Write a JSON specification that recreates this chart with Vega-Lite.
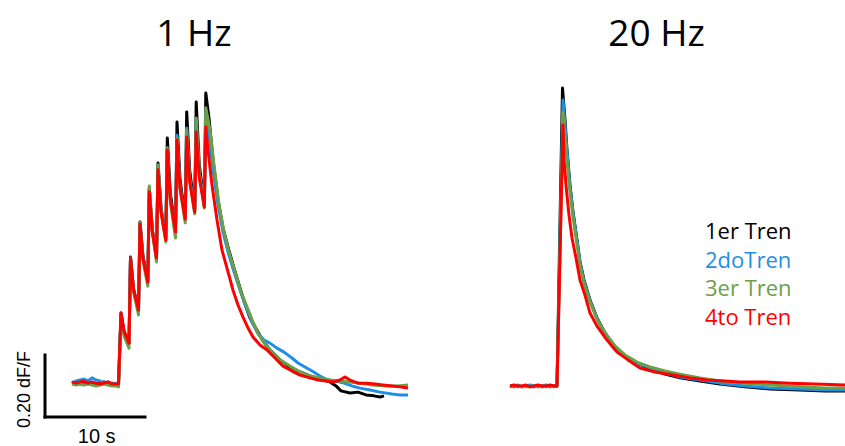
{
  "$schema": "https://vega.github.io/schema/vega-lite/v6.json",
  "padding": 0,
  "spacing": 0,
  "background": "white",
  "config": {"view": {"stroke": null}},
  "resolve": {"scale": {"x": "independent", "y": "independent", "color": "shared"}},
  "datasets": {
    "hz1": [
      {"trial":"1er Tren","t":0,"v":0.006},{"trial":"1er Tren","t":0.4,"v":0.010},{"trial":"1er Tren","t":0.8,"v":0.003},{"trial":"1er Tren","t":1.2,"v":0.006},{"trial":"1er Tren","t":1.6,"v":0.010},{"trial":"1er Tren","t":2.0,"v":0.006},{"trial":"1er Tren","t":2.4,"v":0.003},{"trial":"1er Tren","t":2.8,"v":0.006},{"trial":"1er Tren","t":3.2,"v":0.010},{"trial":"1er Tren","t":3.6,"v":0.003},{"trial":"1er Tren","t":4.0,"v":0.006},{"trial":"1er Tren","t":4.4,"v":0.003},{"trial":"1er Tren","t":4.65,"v":0.003},
      {"trial":"1er Tren","t":4.9,"v":0.232},{"trial":"1er Tren","t":5.2,"v":0.174},{"trial":"1er Tren","t":5.7,"v":0.135},
      {"trial":"1er Tren","t":5.85,"v":0.413},{"trial":"1er Tren","t":6.15,"v":0.310},{"trial":"1er Tren","t":6.65,"v":0.242},
      {"trial":"1er Tren","t":6.8,"v":0.526},{"trial":"1er Tren","t":7.1,"v":0.414},{"trial":"1er Tren","t":7.58,"v":0.339},
      {"trial":"1er Tren","t":7.73,"v":0.635},{"trial":"1er Tren","t":8.03,"v":0.502},{"trial":"1er Tren","t":8.45,"v":0.413},
      {"trial":"1er Tren","t":8.6,"v":0.716},{"trial":"1er Tren","t":8.9,"v":0.571},{"trial":"1er Tren","t":9.38,"v":0.474},
      {"trial":"1er Tren","t":9.53,"v":0.797},{"trial":"1er Tren","t":9.83,"v":0.619},{"trial":"1er Tren","t":10.35,"v":0.500},
      {"trial":"1er Tren","t":10.5,"v":0.848},{"trial":"1er Tren","t":10.8,"v":0.663},{"trial":"1er Tren","t":11.32,"v":0.539},
      {"trial":"1er Tren","t":11.47,"v":0.881},{"trial":"1er Tren","t":11.77,"v":0.691},{"trial":"1er Tren","t":12.27,"v":0.565},
      {"trial":"1er Tren","t":12.42,"v":0.913},{"trial":"1er Tren","t":12.72,"v":0.714},{"trial":"1er Tren","t":13.23,"v":0.581},
      {"trial":"1er Tren","t":13.38,"v":0.942},
      {"trial":"1er Tren","t":13.7,"v":0.861},{"trial":"1er Tren","t":14.1,"v":0.726},{"trial":"1er Tren","t":14.6,"v":0.597},{"trial":"1er Tren","t":15.1,"v":0.506},{"trial":"1er Tren","t":15.6,"v":0.445},{"trial":"1er Tren","t":16.2,"v":0.377},{"trial":"1er Tren","t":16.8,"v":0.313},{"trial":"1er Tren","t":17.3,"v":0.261},{"trial":"1er Tren","t":17.8,"v":0.216},{"trial":"1er Tren","t":18.5,"v":0.177},{"trial":"1er Tren","t":19.1,"v":0.142},{"trial":"1er Tren","t":19.8,"v":0.113},{"trial":"1er Tren","t":20.8,"v":0.081},{"trial":"1er Tren","t":21.8,"v":0.058},{"trial":"1er Tren","t":22.8,"v":0.042},{"trial":"1er Tren","t":23.8,"v":0.029},{"trial":"1er Tren","t":24.8,"v":0.019},{"trial":"1er Tren","t":25.8,"v":0.010},{"trial":"1er Tren","t":26.4,"v":-0.003},{"trial":"1er Tren","t":26.9,"v":-0.019},{"trial":"1er Tren","t":27.8,"v":-0.026},{"trial":"1er Tren","t":28.6,"v":-0.023},{"trial":"1er Tren","t":29.4,"v":-0.032},{"trial":"1er Tren","t":30.2,"v":-0.035},{"trial":"1er Tren","t":30.8,"v":-0.039},{"trial":"1er Tren","t":31.2,"v":-0.035},

      {"trial":"2doTren","t":0,"v":0.006},{"trial":"2doTren","t":0.4,"v":0.013},{"trial":"2doTren","t":0.8,"v":0.016},{"trial":"2doTren","t":1.2,"v":0.019},{"trial":"2doTren","t":1.6,"v":0.013},{"trial":"2doTren","t":2.0,"v":0.023},{"trial":"2doTren","t":2.4,"v":0.016},{"trial":"2doTren","t":2.8,"v":0.013},{"trial":"2doTren","t":3.2,"v":0.006},{"trial":"2doTren","t":3.6,"v":0.010},{"trial":"2doTren","t":4.0,"v":0.003},{"trial":"2doTren","t":4.4,"v":0.006},{"trial":"2doTren","t":4.65,"v":0.003},
      {"trial":"2doTren","t":4.9,"v":0.226},{"trial":"2doTren","t":5.2,"v":0.171},{"trial":"2doTren","t":5.7,"v":0.135},
      {"trial":"2doTren","t":5.85,"v":0.410},{"trial":"2doTren","t":6.15,"v":0.307},{"trial":"2doTren","t":6.65,"v":0.239},
      {"trial":"2doTren","t":6.8,"v":0.523},{"trial":"2doTren","t":7.1,"v":0.410},{"trial":"2doTren","t":7.58,"v":0.335},
      {"trial":"2doTren","t":7.73,"v":0.629},{"trial":"2doTren","t":8.03,"v":0.498},{"trial":"2doTren","t":8.45,"v":0.410},
      {"trial":"2doTren","t":8.6,"v":0.710},{"trial":"2doTren","t":8.9,"v":0.567},{"trial":"2doTren","t":9.38,"v":0.471},
      {"trial":"2doTren","t":9.53,"v":0.758},{"trial":"2doTren","t":9.83,"v":0.601},{"trial":"2doTren","t":10.35,"v":0.497},
      {"trial":"2doTren","t":10.5,"v":0.806},{"trial":"2doTren","t":10.8,"v":0.646},{"trial":"2doTren","t":11.32,"v":0.539},
      {"trial":"2doTren","t":11.47,"v":0.829},{"trial":"2doTren","t":11.77,"v":0.668},{"trial":"2doTren","t":12.27,"v":0.561},
      {"trial":"2doTren","t":12.42,"v":0.855},{"trial":"2doTren","t":12.72,"v":0.688},{"trial":"2doTren","t":13.23,"v":0.577},
      {"trial":"2doTren","t":13.38,"v":0.881},
      {"trial":"2doTren","t":13.7,"v":0.806},{"trial":"2doTren","t":14.1,"v":0.694},{"trial":"2doTren","t":14.6,"v":0.581},{"trial":"2doTren","t":15.1,"v":0.494},{"trial":"2doTren","t":15.6,"v":0.429},{"trial":"2doTren","t":16.2,"v":0.365},{"trial":"2doTren","t":16.8,"v":0.306},{"trial":"2doTren","t":17.4,"v":0.252},{"trial":"2doTren","t":18.0,"v":0.203},{"trial":"2doTren","t":18.6,"v":0.165},{"trial":"2doTren","t":19.2,"v":0.145},{"trial":"2doTren","t":19.8,"v":0.135},{"trial":"2doTren","t":20.5,"v":0.119},{"trial":"2doTren","t":21.2,"v":0.106},{"trial":"2doTren","t":22.0,"v":0.087},{"trial":"2doTren","t":22.6,"v":0.071},{"trial":"2doTren","t":23.3,"v":0.058},{"trial":"2doTren","t":24.0,"v":0.045},{"trial":"2doTren","t":24.8,"v":0.029},{"trial":"2doTren","t":25.6,"v":0.016},{"trial":"2doTren","t":26.4,"v":0.013},{"trial":"2doTren","t":27.2,"v":0.006},{"trial":"2doTren","t":28.0,"v":-0.003},{"trial":"2doTren","t":28.8,"v":-0.010},{"trial":"2doTren","t":29.8,"v":-0.016},{"trial":"2doTren","t":30.8,"v":-0.023},{"trial":"2doTren","t":32.0,"v":-0.029},{"trial":"2doTren","t":32.8,"v":-0.032},{"trial":"2doTren","t":33.6,"v":-0.032},

      {"trial":"3er Tren","t":0,"v":0.003},{"trial":"3er Tren","t":0.4,"v":0},{"trial":"3er Tren","t":0.8,"v":0.003},{"trial":"3er Tren","t":1.2,"v":0},{"trial":"3er Tren","t":1.6,"v":0.003},{"trial":"3er Tren","t":2.0,"v":0},{"trial":"3er Tren","t":2.4,"v":-0.003},{"trial":"3er Tren","t":2.8,"v":0},{"trial":"3er Tren","t":3.2,"v":0.003},{"trial":"3er Tren","t":3.6,"v":0},{"trial":"3er Tren","t":4.0,"v":-0.003},{"trial":"3er Tren","t":4.4,"v":-0.003},{"trial":"3er Tren","t":4.65,"v":-0.006},
      {"trial":"3er Tren","t":4.9,"v":0.216},{"trial":"3er Tren","t":5.2,"v":0.158},{"trial":"3er Tren","t":5.7,"v":0.119},
      {"trial":"3er Tren","t":5.85,"v":0.410},{"trial":"3er Tren","t":6.15,"v":0.300},{"trial":"3er Tren","t":6.65,"v":0.226},
      {"trial":"3er Tren","t":6.8,"v":0.526},{"trial":"3er Tren","t":7.1,"v":0.402},{"trial":"3er Tren","t":7.58,"v":0.319},
      {"trial":"3er Tren","t":7.73,"v":0.642},{"trial":"3er Tren","t":8.03,"v":0.495},{"trial":"3er Tren","t":8.45,"v":0.397},
      {"trial":"3er Tren","t":8.6,"v":0.710},{"trial":"3er Tren","t":8.9,"v":0.561},{"trial":"3er Tren","t":9.38,"v":0.461},
      {"trial":"3er Tren","t":9.53,"v":0.765},{"trial":"3er Tren","t":9.83,"v":0.590},{"trial":"3er Tren","t":10.35,"v":0.474},
      {"trial":"3er Tren","t":10.5,"v":0.797},{"trial":"3er Tren","t":10.8,"v":0.633},{"trial":"3er Tren","t":11.32,"v":0.523},
      {"trial":"3er Tren","t":11.47,"v":0.823},{"trial":"3er Tren","t":11.77,"v":0.660},{"trial":"3er Tren","t":12.27,"v":0.552},
      {"trial":"3er Tren","t":12.42,"v":0.861},{"trial":"3er Tren","t":12.72,"v":0.687},{"trial":"3er Tren","t":13.23,"v":0.571},
      {"trial":"3er Tren","t":13.38,"v":0.894},
      {"trial":"3er Tren","t":13.8,"v":0.823},{"trial":"3er Tren","t":14.2,"v":0.710},{"trial":"3er Tren","t":14.7,"v":0.581},{"trial":"3er Tren","t":15.2,"v":0.494},{"trial":"3er Tren","t":15.7,"v":0.429},{"trial":"3er Tren","t":16.3,"v":0.365},{"trial":"3er Tren","t":16.9,"v":0.300},{"trial":"3er Tren","t":17.5,"v":0.252},{"trial":"3er Tren","t":18.1,"v":0.203},{"trial":"3er Tren","t":18.7,"v":0.161},{"trial":"3er Tren","t":19.4,"v":0.129},{"trial":"3er Tren","t":20.0,"v":0.106},{"trial":"3er Tren","t":20.8,"v":0.081},{"trial":"3er Tren","t":21.8,"v":0.061},{"trial":"3er Tren","t":22.8,"v":0.042},{"trial":"3er Tren","t":23.8,"v":0.029},{"trial":"3er Tren","t":24.8,"v":0.023},{"trial":"3er Tren","t":25.8,"v":0.016},{"trial":"3er Tren","t":26.8,"v":0.013},{"trial":"3er Tren","t":27.8,"v":0.010},{"trial":"3er Tren","t":28.8,"v":0.006},{"trial":"3er Tren","t":30.0,"v":0},{"trial":"3er Tren","t":31.3,"v":-0.003},{"trial":"3er Tren","t":32.6,"v":-0.003},{"trial":"3er Tren","t":33.6,"v":0},

      {"trial":"4to Tren","t":0,"v":0.010},{"trial":"4to Tren","t":0.4,"v":0.006},{"trial":"4to Tren","t":0.8,"v":0.010},{"trial":"4to Tren","t":1.2,"v":0.013},{"trial":"4to Tren","t":1.6,"v":0.006},{"trial":"4to Tren","t":2.0,"v":0.010},{"trial":"4to Tren","t":2.4,"v":0.006},{"trial":"4to Tren","t":2.8,"v":0.003},{"trial":"4to Tren","t":3.2,"v":0.006},{"trial":"4to Tren","t":3.6,"v":0.010},{"trial":"4to Tren","t":4.0,"v":0.003},{"trial":"4to Tren","t":4.4,"v":0.003},{"trial":"4to Tren","t":4.65,"v":0.003},
      {"trial":"4to Tren","t":4.9,"v":0.232},{"trial":"4to Tren","t":5.2,"v":0.174},{"trial":"4to Tren","t":5.7,"v":0.135},
      {"trial":"4to Tren","t":5.85,"v":0.410},{"trial":"4to Tren","t":6.15,"v":0.309},{"trial":"4to Tren","t":6.65,"v":0.242},
      {"trial":"4to Tren","t":6.8,"v":0.519},{"trial":"4to Tren","t":7.1,"v":0.407},{"trial":"4to Tren","t":7.58,"v":0.332},
      {"trial":"4to Tren","t":7.73,"v":0.623},{"trial":"4to Tren","t":8.03,"v":0.495},{"trial":"4to Tren","t":8.45,"v":0.410},
      {"trial":"4to Tren","t":8.6,"v":0.694},{"trial":"4to Tren","t":8.9,"v":0.558},{"trial":"4to Tren","t":9.38,"v":0.468},
      {"trial":"4to Tren","t":9.53,"v":0.758},{"trial":"4to Tren","t":9.83,"v":0.600},{"trial":"4to Tren","t":10.35,"v":0.494},
      {"trial":"4to Tren","t":10.5,"v":0.790},{"trial":"4to Tren","t":10.8,"v":0.637},{"trial":"4to Tren","t":11.32,"v":0.535},
      {"trial":"4to Tren","t":11.47,"v":0.800},{"trial":"4to Tren","t":11.77,"v":0.655},{"trial":"4to Tren","t":12.27,"v":0.558},
      {"trial":"4to Tren","t":12.42,"v":0.816},{"trial":"4to Tren","t":12.72,"v":0.671},{"trial":"4to Tren","t":13.23,"v":0.574},
      {"trial":"4to Tren","t":13.38,"v":0.832},
      {"trial":"4to Tren","t":13.6,"v":0.758},{"trial":"4to Tren","t":14.0,"v":0.645},{"trial":"4to Tren","t":14.5,"v":0.532},{"trial":"4to Tren","t":15.0,"v":0.435},{"trial":"4to Tren","t":15.5,"v":0.377},{"trial":"4to Tren","t":16.1,"v":0.306},{"trial":"4to Tren","t":16.6,"v":0.258},{"trial":"4to Tren","t":17.1,"v":0.219},{"trial":"4to Tren","t":17.6,"v":0.184},{"trial":"4to Tren","t":18.1,"v":0.155},{"trial":"4to Tren","t":18.8,"v":0.129},{"trial":"4to Tren","t":19.5,"v":0.113},{"trial":"4to Tren","t":20.3,"v":0.087},{"trial":"4to Tren","t":21.1,"v":0.061},{"trial":"4to Tren","t":22.0,"v":0.045},{"trial":"4to Tren","t":22.8,"v":0.032},{"trial":"4to Tren","t":23.8,"v":0.023},{"trial":"4to Tren","t":24.6,"v":0.016},{"trial":"4to Tren","t":25.4,"v":0.013},{"trial":"4to Tren","t":26.2,"v":0.010},{"trial":"4to Tren","t":26.8,"v":0.016},{"trial":"4to Tren","t":27.3,"v":0.026},{"trial":"4to Tren","t":27.8,"v":0.016},{"trial":"4to Tren","t":28.6,"v":0.006},{"trial":"4to Tren","t":29.5,"v":0.006},{"trial":"4to Tren","t":30.3,"v":0.003},{"trial":"4to Tren","t":31.1,"v":0},{"trial":"4to Tren","t":32.0,"v":-0.003},{"trial":"4to Tren","t":32.8,"v":-0.006},{"trial":"4to Tren","t":33.6,"v":-0.010}
    ],
    "hz20": [
      {"trial":"1er Tren","t":0,"v":-0.003},{"trial":"1er Tren","t":0.4,"v":-0.006},{"trial":"1er Tren","t":0.8,"v":-0.003},{"trial":"1er Tren","t":1.2,"v":-0.006},{"trial":"1er Tren","t":1.6,"v":-0.003},{"trial":"1er Tren","t":2.0,"v":-0.003},{"trial":"1er Tren","t":2.4,"v":-0.006},{"trial":"1er Tren","t":2.8,"v":-0.003},{"trial":"1er Tren","t":3.2,"v":-0.006},{"trial":"1er Tren","t":3.6,"v":-0.003},{"trial":"1er Tren","t":4.0,"v":-0.006},{"trial":"1er Tren","t":4.4,"v":-0.003},{"trial":"1er Tren","t":4.7,"v":-0.003},
      {"trial":"1er Tren","t":5.25,"v":0.958},
      {"trial":"1er Tren","t":5.5,"v":0.855},{"trial":"1er Tren","t":5.7,"v":0.758},{"trial":"1er Tren","t":6.0,"v":0.645},{"trial":"1er Tren","t":6.3,"v":0.558},{"trial":"1er Tren","t":6.7,"v":0.468},{"trial":"1er Tren","t":7.0,"v":0.397},{"trial":"1er Tren","t":7.4,"v":0.339},{"trial":"1er Tren","t":8.0,"v":0.274},{"trial":"1er Tren","t":8.7,"v":0.216},{"trial":"1er Tren","t":9.5,"v":0.168},{"trial":"1er Tren","t":10.5,"v":0.123},{"trial":"1er Tren","t":11.5,"v":0.094},{"trial":"1er Tren","t":12.7,"v":0.071},{"trial":"1er Tren","t":14.0,"v":0.052},{"trial":"1er Tren","t":15.5,"v":0.035},{"trial":"1er Tren","t":17.0,"v":0.023},{"trial":"1er Tren","t":19.0,"v":0.013},{"trial":"1er Tren","t":21.0,"v":0.003},{"trial":"1er Tren","t":23.5,"v":-0.006},{"trial":"1er Tren","t":26.0,"v":-0.013},{"trial":"1er Tren","t":29.0,"v":-0.016},{"trial":"1er Tren","t":31.5,"v":-0.019},{"trial":"1er Tren","t":33.5,"v":-0.019},

      {"trial":"2doTren","t":0,"v":-0.003},{"trial":"2doTren","t":0.4,"v":-0.003},{"trial":"2doTren","t":0.8,"v":0},{"trial":"2doTren","t":1.2,"v":-0.006},{"trial":"2doTren","t":1.6,"v":-0.003},{"trial":"2doTren","t":2.0,"v":0},{"trial":"2doTren","t":2.4,"v":-0.003},{"trial":"2doTren","t":2.8,"v":-0.006},{"trial":"2doTren","t":3.2,"v":-0.003},{"trial":"2doTren","t":3.6,"v":0},{"trial":"2doTren","t":4.0,"v":-0.003},{"trial":"2doTren","t":4.4,"v":-0.003},{"trial":"2doTren","t":4.7,"v":-0.003},
      {"trial":"2doTren","t":5.3,"v":0.919},
      {"trial":"2doTren","t":5.5,"v":0.839},{"trial":"2doTren","t":5.7,"v":0.752},{"trial":"2doTren","t":6.0,"v":0.639},{"trial":"2doTren","t":6.3,"v":0.555},{"trial":"2doTren","t":6.7,"v":0.465},{"trial":"2doTren","t":7.0,"v":0.394},{"trial":"2doTren","t":7.4,"v":0.335},{"trial":"2doTren","t":8.0,"v":0.271},{"trial":"2doTren","t":8.7,"v":0.213},{"trial":"2doTren","t":9.5,"v":0.165},{"trial":"2doTren","t":10.5,"v":0.123},{"trial":"2doTren","t":11.5,"v":0.094},{"trial":"2doTren","t":12.7,"v":0.071},{"trial":"2doTren","t":14.0,"v":0.055},{"trial":"2doTren","t":15.5,"v":0.039},{"trial":"2doTren","t":17.0,"v":0.026},{"trial":"2doTren","t":19.0,"v":0.016},{"trial":"2doTren","t":21.0,"v":0.006},{"trial":"2doTren","t":23.5,"v":-0.003},{"trial":"2doTren","t":26.0,"v":-0.010},{"trial":"2doTren","t":29.0,"v":-0.013},{"trial":"2doTren","t":31.5,"v":-0.016},{"trial":"2doTren","t":33.5,"v":-0.016},

      {"trial":"3er Tren","t":0,"v":-0.006},{"trial":"3er Tren","t":0.4,"v":-0.003},{"trial":"3er Tren","t":0.8,"v":-0.006},{"trial":"3er Tren","t":1.2,"v":-0.003},{"trial":"3er Tren","t":1.6,"v":-0.006},{"trial":"3er Tren","t":2.0,"v":-0.006},{"trial":"3er Tren","t":2.4,"v":-0.003},{"trial":"3er Tren","t":2.8,"v":-0.006},{"trial":"3er Tren","t":3.2,"v":-0.003},{"trial":"3er Tren","t":3.6,"v":-0.006},{"trial":"3er Tren","t":4.0,"v":-0.003},{"trial":"3er Tren","t":4.4,"v":-0.006},{"trial":"3er Tren","t":4.7,"v":-0.003},
      {"trial":"3er Tren","t":5.3,"v":0.881},
      {"trial":"3er Tren","t":5.5,"v":0.806},{"trial":"3er Tren","t":5.7,"v":0.726},{"trial":"3er Tren","t":6.0,"v":0.623},{"trial":"3er Tren","t":6.3,"v":0.542},{"trial":"3er Tren","t":6.7,"v":0.455},{"trial":"3er Tren","t":7.0,"v":0.387},{"trial":"3er Tren","t":7.4,"v":0.329},{"trial":"3er Tren","t":8.0,"v":0.268},{"trial":"3er Tren","t":8.7,"v":0.213},{"trial":"3er Tren","t":9.5,"v":0.168},{"trial":"3er Tren","t":10.5,"v":0.126},{"trial":"3er Tren","t":11.5,"v":0.097},{"trial":"3er Tren","t":12.7,"v":0.074},{"trial":"3er Tren","t":14.0,"v":0.058},{"trial":"3er Tren","t":15.5,"v":0.045},{"trial":"3er Tren","t":17.0,"v":0.035},{"trial":"3er Tren","t":19.0,"v":0.023},{"trial":"3er Tren","t":21.0,"v":0.013},{"trial":"3er Tren","t":23.5,"v":0.006},{"trial":"3er Tren","t":26.0,"v":0},{"trial":"3er Tren","t":29.0,"v":-0.006},{"trial":"3er Tren","t":31.5,"v":-0.010},{"trial":"3er Tren","t":33.5,"v":-0.010},

      {"trial":"4to Tren","t":0,"v":-0.003},{"trial":"4to Tren","t":0.4,"v":0},{"trial":"4to Tren","t":0.8,"v":-0.003},{"trial":"4to Tren","t":1.2,"v":-0.003},{"trial":"4to Tren","t":1.6,"v":0},{"trial":"4to Tren","t":2.0,"v":-0.006},{"trial":"4to Tren","t":2.4,"v":-0.003},{"trial":"4to Tren","t":2.8,"v":0},{"trial":"4to Tren","t":3.2,"v":-0.003},{"trial":"4to Tren","t":3.6,"v":-0.003},{"trial":"4to Tren","t":4.0,"v":0},{"trial":"4to Tren","t":4.4,"v":-0.003},{"trial":"4to Tren","t":4.7,"v":-0.003},
      {"trial":"4to Tren","t":5.3,"v":0.839},
      {"trial":"4to Tren","t":5.4,"v":0.726},{"trial":"4to Tren","t":5.6,"v":0.645},{"trial":"4to Tren","t":5.9,"v":0.548},{"trial":"4to Tren","t":6.2,"v":0.474},{"trial":"4to Tren","t":6.6,"v":0.410},{"trial":"4to Tren","t":7.0,"v":0.339},{"trial":"4to Tren","t":7.5,"v":0.290},{"trial":"4to Tren","t":8.0,"v":0.232},{"trial":"4to Tren","t":8.7,"v":0.190},{"trial":"4to Tren","t":9.7,"v":0.145},{"trial":"4to Tren","t":10.7,"v":0.106},{"trial":"4to Tren","t":11.8,"v":0.081},{"trial":"4to Tren","t":13.0,"v":0.055},{"trial":"4to Tren","t":14.5,"v":0.042},{"trial":"4to Tren","t":16.3,"v":0.032},{"trial":"4to Tren","t":18.0,"v":0.023},{"trial":"4to Tren","t":19.7,"v":0.016},{"trial":"4to Tren","t":21.5,"v":0.013},{"trial":"4to Tren","t":23.0,"v":0.010},{"trial":"4to Tren","t":25.5,"v":0.010},{"trial":"4to Tren","t":28.0,"v":0.006},{"trial":"4to Tren","t":30.5,"v":0.003},{"trial":"4to Tren","t":33.5,"v":0}
    ]
  },
  "hconcat": [
    {
      "width": 440,
      "height": 446,
      "layer": [
        {
          "data": {"name": "hz1"},
          "mark": {"type": "line", "strokeWidth": 3, "strokeJoin": "round"},
          "encoding": {
            "x": {"field": "t", "type": "quantitative", "scale": {"domain": [-7.2, 36.8], "nice": false, "zero": false}, "axis": null},
            "y": {"field": "v", "type": "quantitative", "scale": {"domain": [-0.19677, 1.24194], "nice": false, "zero": false}, "axis": null},
            "color": {
              "field": "trial", "type": "nominal",
              "scale": {"domain": ["1er Tren", "2doTren", "3er Tren", "4to Tren"], "range": ["#000000", "#1e8fe6", "#6aa049", "#ff0000"]},
              "legend": {"orient": "none", "legendX": 683, "legendY": 221, "title": null, "symbolType": "circle", "symbolSize": 0, "symbolOpacity": 0, "symbolStrokeWidth": 0, "labelFont": "Open Sans", "labelFontSize": 22, "labelOffset": 0, "rowPadding": 6.5, "labelLimit": 200, "encode": {"labels": {"update": {"fill": {"scale": "color", "field": "value"}}}}}
            }
          }
        },
        {
          "data": {"values": [{}]},
          "mark": {"type": "rule", "strokeWidth": 3, "color": "black", "strokeCap": "square"},
          "encoding": {"x": {"datum": -2.7}, "y": {"datum": -0.1032}, "y2": {"datum": 0.0968}}
        },
        {
          "data": {"values": [{}]},
          "mark": {"type": "rule", "strokeWidth": 3, "color": "black", "strokeCap": "square"},
          "encoding": {"x": {"datum": -2.7}, "x2": {"datum": 7.3}, "y": {"datum": -0.1032}}
        },
        {
          "data": {"values": [{}]},
          "mark": {"type": "text", "text": "10 s", "font": "Liberation Sans", "fontSize": 20, "align": "center", "baseline": "alphabetic", "color": "black"},
          "encoding": {"x": {"datum": 2.47}, "y": {"datum": -0.186}}
        },
        {
          "data": {"values": [{}]},
          "mark": {"type": "text", "text": "0.20 dF/F", "font": "Liberation Sans", "fontSize": 18, "align": "center", "baseline": "middle", "angle": 270, "color": "black"},
          "encoding": {"x": {"datum": -4.7}, "y": {"datum": -0.0145}}
        },
        {
          "data": {"values": [{}]},
          "mark": {"type": "text", "text": "1 Hz", "font": "Open Sans", "fontSize": 37, "align": "center", "baseline": "alphabetic", "color": "black"},
          "encoding": {"x": {"datum": 12.2}, "y": {"datum": 1.0935}}
        }
      ]
    },
    {
      "width": 405,
      "height": 446,
      "layer": [
        {
          "data": {"name": "hz20"},
          "mark": {"type": "line", "strokeWidth": 3, "strokeJoin": "round"},
          "encoding": {
            "x": {"field": "t", "type": "quantitative", "scale": {"domain": [-7.0, 33.5], "nice": false, "zero": false}, "axis": null},
            "y": {"field": "v", "type": "quantitative", "scale": {"domain": [-0.19677, 1.24194], "nice": false, "zero": false}, "axis": null},
            "color": {
              "field": "trial", "type": "nominal",
              "scale": {"domain": ["1er Tren", "2doTren", "3er Tren", "4to Tren"], "range": ["#000000", "#1e8fe6", "#6aa049", "#ff0000"]},
              "legend": {"orient": "none", "legendX": 683, "legendY": 221, "title": null, "symbolType": "circle", "symbolSize": 0, "symbolOpacity": 0, "symbolStrokeWidth": 0, "labelFont": "Open Sans", "labelFontSize": 22, "labelOffset": 0, "rowPadding": 6.5, "labelLimit": 200, "encode": {"labels": {"update": {"fill": {"scale": "color", "field": "value"}}}}}
            }
          }
        },
        {
          "data": {"values": [{}]},
          "mark": {"type": "text", "text": "20 Hz", "font": "Open Sans", "fontSize": 37, "align": "center", "baseline": "alphabetic", "color": "black"},
          "encoding": {"x": {"datum": 14.65}, "y": {"datum": 1.0935}}
        }
      ]
    }
  ]
}
